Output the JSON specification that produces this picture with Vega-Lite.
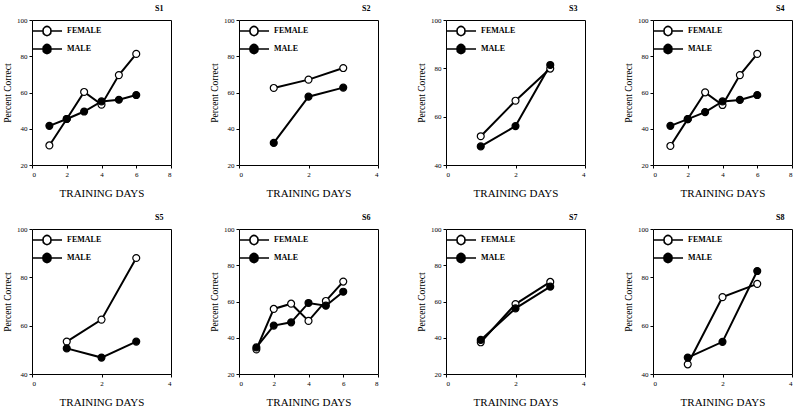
{
  "$schema": "https://vega.github.io/schema/vega-lite/v6.json",
  "padding": {"left": 2, "top": 4, "right": 0, "bottom": 0},
  "background": "white",
  "data": {"values": [
    {"s":"S1","sex":"FEMALE","day":1,"pct":30.8},{"s":"S1","sex":"FEMALE","day":2,"pct":45.4},{"s":"S1","sex":"FEMALE","day":3,"pct":60.3},{"s":"S1","sex":"FEMALE","day":4,"pct":53.3},{"s":"S1","sex":"FEMALE","day":5,"pct":69.6},{"s":"S1","sex":"FEMALE","day":6,"pct":81.3},
    {"s":"S1","sex":"MALE","day":1,"pct":41.6},{"s":"S1","sex":"MALE","day":2,"pct":45.4},{"s":"S1","sex":"MALE","day":3,"pct":49.5},{"s":"S1","sex":"MALE","day":4,"pct":55.1},{"s":"S1","sex":"MALE","day":5,"pct":56.0},{"s":"S1","sex":"MALE","day":6,"pct":58.6},
    {"s":"S2","sex":"FEMALE","day":1,"pct":62.5},{"s":"S2","sex":"FEMALE","day":2,"pct":67.1},{"s":"S2","sex":"FEMALE","day":3,"pct":73.5},
    {"s":"S2","sex":"MALE","day":1,"pct":32.2},{"s":"S2","sex":"MALE","day":2,"pct":57.7},{"s":"S2","sex":"MALE","day":3,"pct":62.7},
    {"s":"S3","sex":"FEMALE","day":1,"pct":51.9},{"s":"S3","sex":"FEMALE","day":2,"pct":66.6},{"s":"S3","sex":"FEMALE","day":3,"pct":79.9},
    {"s":"S3","sex":"MALE","day":1,"pct":47.7},{"s":"S3","sex":"MALE","day":2,"pct":56.1},{"s":"S3","sex":"MALE","day":3,"pct":81.4},
    {"s":"S4","sex":"FEMALE","day":1,"pct":30.5},{"s":"S4","sex":"FEMALE","day":2,"pct":45.3},{"s":"S4","sex":"FEMALE","day":3,"pct":60.1},{"s":"S4","sex":"FEMALE","day":4,"pct":53.1},{"s":"S4","sex":"FEMALE","day":5,"pct":69.6},{"s":"S4","sex":"FEMALE","day":6,"pct":81.3},
    {"s":"S4","sex":"MALE","day":1,"pct":41.6},{"s":"S4","sex":"MALE","day":2,"pct":45.3},{"s":"S4","sex":"MALE","day":3,"pct":49.2},{"s":"S4","sex":"MALE","day":4,"pct":55.1},{"s":"S4","sex":"MALE","day":5,"pct":55.9},{"s":"S4","sex":"MALE","day":6,"pct":58.6},
    {"s":"S5","sex":"FEMALE","day":1,"pct":53.4},{"s":"S5","sex":"FEMALE","day":2,"pct":62.5},{"s":"S5","sex":"FEMALE","day":3,"pct":88.0},
    {"s":"S5","sex":"MALE","day":1,"pct":50.6},{"s":"S5","sex":"MALE","day":2,"pct":46.8},{"s":"S5","sex":"MALE","day":3,"pct":53.4},
    {"s":"S6","sex":"FEMALE","day":1,"pct":33.6},{"s":"S6","sex":"FEMALE","day":2,"pct":55.9},{"s":"S6","sex":"FEMALE","day":3,"pct":58.8},{"s":"S6","sex":"FEMALE","day":4,"pct":49.3},{"s":"S6","sex":"FEMALE","day":5,"pct":60.3},{"s":"S6","sex":"FEMALE","day":6,"pct":71.0},
    {"s":"S6","sex":"MALE","day":1,"pct":34.7},{"s":"S6","sex":"MALE","day":2,"pct":46.7},{"s":"S6","sex":"MALE","day":3,"pct":48.5},{"s":"S6","sex":"MALE","day":4,"pct":59.2},{"s":"S6","sex":"MALE","day":5,"pct":57.7},{"s":"S6","sex":"MALE","day":6,"pct":65.4},
    {"s":"S7","sex":"FEMALE","day":1,"pct":37.5},{"s":"S7","sex":"FEMALE","day":2,"pct":58.6},{"s":"S7","sex":"FEMALE","day":3,"pct":70.8},
    {"s":"S7","sex":"MALE","day":1,"pct":38.8},{"s":"S7","sex":"MALE","day":2,"pct":56.2},{"s":"S7","sex":"MALE","day":3,"pct":68.2},
    {"s":"S8","sex":"FEMALE","day":1,"pct":44.0},{"s":"S8","sex":"FEMALE","day":2,"pct":71.8},{"s":"S8","sex":"FEMALE","day":3,"pct":77.3},
    {"s":"S8","sex":"MALE","day":1,"pct":46.8},{"s":"S8","sex":"MALE","day":2,"pct":53.3},{"s":"S8","sex":"MALE","day":3,"pct":82.6}
  ]},
  "columns": 4,
  "spacing": {"row": 64, "column": 68},
  "bounds": "flush",
  "resolve": {"scale": {"x": "independent", "y": "independent", "fill": "independent"}, "legend": {"fill": "independent"}, "axis": {"x": "independent", "y": "independent"}},
  "concat": [
    {"title": "S1", "width": 139, "height": 145, "transform": [{"filter": "datum.s == 'S1'"}],
     "encoding": {"x": {"field": "day", "type": "quantitative", "scale": {"domain": [0, 8], "nice": false}, "axis": {"values": [0, 2, 4, 6, 8], "title": "TRAINING DAYS"}},
                  "y": {"field": "pct", "type": "quantitative", "scale": {"domain": [20, 100], "nice": false, "zero": false}, "axis": {"values": [20, 40, 60, 80, 100], "title": "Percent Correct"}}},
     "layer": [
       {"mark": {"type": "line", "color": "black", "strokeWidth": 2}, "encoding": {"detail": {"field": "sex"}}},
       {"mark": {"type": "point", "shape": "circle", "filled": true, "size": 48, "stroke": "black", "strokeWidth": 1.2, "opacity": 1},
        "encoding": {"fill": {"field": "sex", "type": "nominal", "scale": {"domain": ["FEMALE", "MALE"], "range": ["white", "black"]}, "legend": {"title": null}}}}
     ]},
    {"title": "S2", "width": 139, "height": 145, "transform": [{"filter": "datum.s == 'S2'"}],
     "encoding": {"x": {"field": "day", "type": "quantitative", "scale": {"domain": [0, 4], "nice": false}, "axis": {"values": [0, 2, 4], "title": "TRAINING DAYS"}},
                  "y": {"field": "pct", "type": "quantitative", "scale": {"domain": [20, 100], "nice": false, "zero": false}, "axis": {"values": [20, 40, 60, 80, 100], "title": "Percent Correct"}}},
     "layer": [
       {"mark": {"type": "line", "color": "black", "strokeWidth": 2}, "encoding": {"detail": {"field": "sex"}}},
       {"mark": {"type": "point", "shape": "circle", "filled": true, "size": 48, "stroke": "black", "strokeWidth": 1.2, "opacity": 1},
        "encoding": {"fill": {"field": "sex", "type": "nominal", "scale": {"domain": ["FEMALE", "MALE"], "range": ["white", "black"]}, "legend": {"title": null}}}}
     ]},
    {"title": "S3", "width": 139, "height": 145, "transform": [{"filter": "datum.s == 'S3'"}],
     "encoding": {"x": {"field": "day", "type": "quantitative", "scale": {"domain": [0, 4], "nice": false}, "axis": {"values": [0, 2, 4], "title": "TRAINING DAYS"}},
                  "y": {"field": "pct", "type": "quantitative", "scale": {"domain": [40, 100], "nice": false, "zero": false}, "axis": {"values": [40, 60, 80, 100], "title": "Percent Correct"}}},
     "layer": [
       {"mark": {"type": "line", "color": "black", "strokeWidth": 2}, "encoding": {"detail": {"field": "sex"}}},
       {"mark": {"type": "point", "shape": "circle", "filled": true, "size": 48, "stroke": "black", "strokeWidth": 1.2, "opacity": 1},
        "encoding": {"fill": {"field": "sex", "type": "nominal", "scale": {"domain": ["FEMALE", "MALE"], "range": ["white", "black"]}, "legend": {"title": null}}}}
     ]},
    {"title": "S4", "width": 139, "height": 145, "transform": [{"filter": "datum.s == 'S4'"}],
     "encoding": {"x": {"field": "day", "type": "quantitative", "scale": {"domain": [0, 8], "nice": false}, "axis": {"values": [0, 2, 4, 6, 8], "title": "TRAINING DAYS"}},
                  "y": {"field": "pct", "type": "quantitative", "scale": {"domain": [20, 100], "nice": false, "zero": false}, "axis": {"values": [20, 40, 60, 80, 100], "title": "Percent Correct"}}},
     "layer": [
       {"mark": {"type": "line", "color": "black", "strokeWidth": 2}, "encoding": {"detail": {"field": "sex"}}},
       {"mark": {"type": "point", "shape": "circle", "filled": true, "size": 48, "stroke": "black", "strokeWidth": 1.2, "opacity": 1},
        "encoding": {"fill": {"field": "sex", "type": "nominal", "scale": {"domain": ["FEMALE", "MALE"], "range": ["white", "black"]}, "legend": {"title": null}}}}
     ]},
    {"title": "S5", "width": 139, "height": 145, "transform": [{"filter": "datum.s == 'S5'"}],
     "encoding": {"x": {"field": "day", "type": "quantitative", "scale": {"domain": [0, 4], "nice": false}, "axis": {"values": [0, 2, 4], "title": "TRAINING DAYS"}},
                  "y": {"field": "pct", "type": "quantitative", "scale": {"domain": [40, 100], "nice": false, "zero": false}, "axis": {"values": [40, 60, 80, 100], "title": "Percent Correct"}}},
     "layer": [
       {"mark": {"type": "line", "color": "black", "strokeWidth": 2}, "encoding": {"detail": {"field": "sex"}}},
       {"mark": {"type": "point", "shape": "circle", "filled": true, "size": 48, "stroke": "black", "strokeWidth": 1.2, "opacity": 1},
        "encoding": {"fill": {"field": "sex", "type": "nominal", "scale": {"domain": ["FEMALE", "MALE"], "range": ["white", "black"]}, "legend": {"title": null}}}}
     ]},
    {"title": "S6", "width": 139, "height": 145, "transform": [{"filter": "datum.s == 'S6'"}],
     "encoding": {"x": {"field": "day", "type": "quantitative", "scale": {"domain": [0, 8], "nice": false}, "axis": {"values": [0, 2, 4, 6, 8], "title": "TRAINING DAYS"}},
                  "y": {"field": "pct", "type": "quantitative", "scale": {"domain": [20, 100], "nice": false, "zero": false}, "axis": {"values": [20, 40, 60, 80, 100], "title": "Percent Correct"}}},
     "layer": [
       {"mark": {"type": "line", "color": "black", "strokeWidth": 2}, "encoding": {"detail": {"field": "sex"}}},
       {"mark": {"type": "point", "shape": "circle", "filled": true, "size": 48, "stroke": "black", "strokeWidth": 1.2, "opacity": 1},
        "encoding": {"fill": {"field": "sex", "type": "nominal", "scale": {"domain": ["FEMALE", "MALE"], "range": ["white", "black"]}, "legend": {"title": null}}}}
     ]},
    {"title": "S7", "width": 139, "height": 145, "transform": [{"filter": "datum.s == 'S7'"}],
     "encoding": {"x": {"field": "day", "type": "quantitative", "scale": {"domain": [0, 4], "nice": false}, "axis": {"values": [0, 2, 4], "title": "TRAINING DAYS"}},
                  "y": {"field": "pct", "type": "quantitative", "scale": {"domain": [20, 100], "nice": false, "zero": false}, "axis": {"values": [20, 40, 60, 80, 100], "title": "Percent Correct"}}},
     "layer": [
       {"mark": {"type": "line", "color": "black", "strokeWidth": 2}, "encoding": {"detail": {"field": "sex"}}},
       {"mark": {"type": "point", "shape": "circle", "filled": true, "size": 48, "stroke": "black", "strokeWidth": 1.2, "opacity": 1},
        "encoding": {"fill": {"field": "sex", "type": "nominal", "scale": {"domain": ["FEMALE", "MALE"], "range": ["white", "black"]}, "legend": {"title": null}}}}
     ]},
    {"title": "S8", "width": 139, "height": 145, "transform": [{"filter": "datum.s == 'S8'"}],
     "encoding": {"x": {"field": "day", "type": "quantitative", "scale": {"domain": [0, 4], "nice": false}, "axis": {"values": [0, 2, 4], "title": "TRAINING DAYS"}},
                  "y": {"field": "pct", "type": "quantitative", "scale": {"domain": [40, 100], "nice": false, "zero": false}, "axis": {"values": [40, 60, 80, 100], "title": "Percent Correct"}}},
     "layer": [
       {"mark": {"type": "line", "color": "black", "strokeWidth": 2}, "encoding": {"detail": {"field": "sex"}}},
       {"mark": {"type": "point", "shape": "circle", "filled": true, "size": 48, "stroke": "black", "strokeWidth": 1.2, "opacity": 1},
        "encoding": {"fill": {"field": "sex", "type": "nominal", "scale": {"domain": ["FEMALE", "MALE"], "range": ["white", "black"]}, "legend": {"title": null}}}}
     ]}
  ],
  "config": {
    "font": "Liberation Serif",
    "view": {"stroke": "black", "strokeWidth": 1},
    "title": {"anchor": "end", "dx": -8, "offset": 3, "fontSize": 8, "fontWeight": "bold", "font": "Liberation Serif", "color": "black"},
    "axis": {"grid": false, "domain": false, "tickColor": "black", "tickSize": 3, "labelFont": "Liberation Serif", "labelFontSize": 7, "labelColor": "black", "labelPadding": 2, "titleFont": "Liberation Serif", "titleFontWeight": "normal", "titleColor": "black"},
    "axisX": {"titleFontSize": 11, "titlePadding": 10},
    "axisY": {"titleFontSize": 9.5, "titlePadding": 4},
    "legend": {"orient": "top-left", "offset": 4, "padding": 0, "symbolType": "M-1.83,0L0,0M1.33,0L3.17,0M1.33,0A0.67,0.67,0,1,1,0,0A0.67,0.67,0,1,1,1.33,0Z", "symbolSize": 144, "symbolStrokeColor": "black", "symbolStrokeWidth": 1.6, "symbolOpacity": 1, "labelFont": "Liberation Serif", "labelFontSize": 8, "labelFontWeight": "bold", "labelColor": "black", "labelOffset": 17, "rowPadding": 2}
  }
}
